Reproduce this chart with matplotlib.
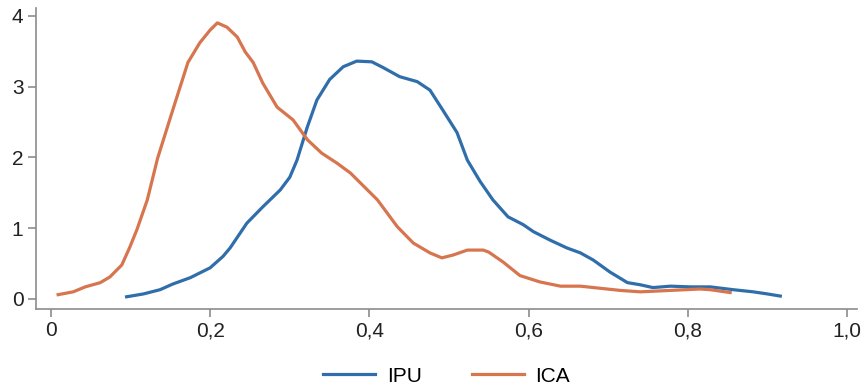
import numpy as np
import matplotlib
matplotlib.use("Agg")
import matplotlib.pyplot as plt
from matplotlib.ticker import FixedLocator

# density curves
ipu_x = [0.095, 0.116, 0.137, 0.153, 0.175, 0.200, 0.216, 0.225, 0.246, 0.266, 0.288, 0.300,
         0.309, 0.322, 0.334, 0.350, 0.367, 0.384, 0.403, 0.417, 0.438, 0.460, 0.476, 0.492,
         0.510, 0.523, 0.539, 0.555, 0.574, 0.593, 0.606, 0.627, 0.648, 0.665, 0.681, 0.702,
         0.724, 0.740, 0.756, 0.778, 0.803, 0.828, 0.857, 0.882, 0.900, 0.916]
ipu_y = [0.03, 0.07, 0.13, 0.21, 0.30, 0.44, 0.60, 0.72, 1.07, 1.30, 1.54, 1.72,
         1.96, 2.43, 2.81, 3.10, 3.28, 3.36, 3.35, 3.27, 3.14, 3.07, 2.95, 2.67,
         2.35, 1.96, 1.66, 1.40, 1.16, 1.05, 0.95, 0.83, 0.72, 0.65, 0.55, 0.38,
         0.23, 0.20, 0.16, 0.18, 0.17, 0.17, 0.13, 0.10, 0.07, 0.04]

ica_x = [0.009, 0.028, 0.043, 0.062, 0.074, 0.089, 0.099, 0.108, 0.121, 0.134, 0.153, 0.172,
         0.187, 0.200, 0.209, 0.221, 0.234, 0.244, 0.254, 0.266, 0.284, 0.304, 0.322, 0.340,
         0.359, 0.376, 0.410, 0.435, 0.455, 0.476, 0.491, 0.505, 0.523, 0.543, 0.550, 0.568,
         0.589, 0.614, 0.640, 0.665, 0.690, 0.715, 0.740, 0.778, 0.815, 0.828, 0.853]
ica_y = [0.06, 0.10, 0.17, 0.23, 0.31, 0.48, 0.73, 0.98, 1.40, 1.99, 2.67, 3.34,
         3.62, 3.80, 3.90, 3.84, 3.70, 3.49, 3.34, 3.05, 2.71, 2.53, 2.25, 2.06,
         1.92, 1.78, 1.40, 1.02, 0.79, 0.65, 0.58, 0.62, 0.69, 0.69, 0.66, 0.52,
         0.33, 0.24, 0.18, 0.18, 0.15, 0.12, 0.10, 0.12, 0.14, 0.13, 0.09]

x_ticks = [0, 0.2, 0.4, 0.6, 0.8, 1.0]
x_labels = ["0", "0,2", "0,4", "0,6", "0,8", "1,0"]
y_ticks = [0, 1, 2, 3, 4]

blue = "#2f6eaa"
orange = "#d6754e"
grey = "#8c8c8c"

plt.rcParams["font.family"] = ["Liberation Sans Narrow", "Liberation Sans", "DejaVu Sans"]

fig = plt.figure(figsize=(8.65, 3.91), dpi=100)
ax = fig.add_axes([0.0416, 0.21, 0.9494, 0.77])

ax.plot(ipu_x, ipu_y, color=blue, lw=2.3, label="IPU", solid_joinstyle="round")
ax.plot(ica_x, ica_y, color=orange, lw=2.3, label="ICA", solid_joinstyle="round")

ax.set_xlim(-0.0188, 1.0126)
ax.set_ylim(-0.141, 4.113)
ax.xaxis.set_major_locator(FixedLocator(x_ticks))
ax.set_xticklabels(x_labels)
ax.yaxis.set_major_locator(FixedLocator(y_ticks))

for s in ["top", "right"]:
    ax.spines[s].set_visible(False)
for s in ["left", "bottom"]:
    ax.spines[s].set_color(grey)
    ax.spines[s].set_linewidth(1.2)
ax.tick_params(direction="out", length=6, width=1.2, color=grey,
               labelsize=15, labelcolor="#222222", pad=3)

ax.legend(loc="upper center", bbox_to_anchor=(0.5, -0.13), ncol=2, frameon=False,
          fontsize=15, handlelength=2.5, columnspacing=2.4, handletextpad=0.55)

fig.savefig("out.png", dpi=100)
